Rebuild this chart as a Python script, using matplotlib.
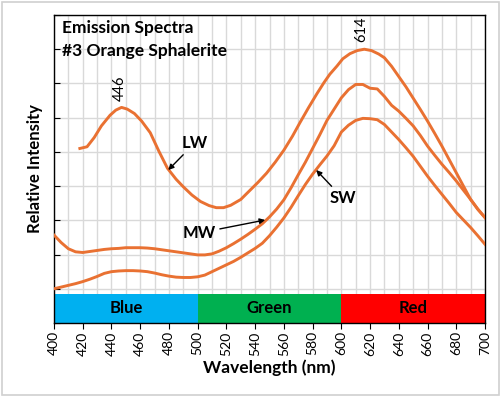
"""
Emission spectra of #3 Orange Sphalerite under LW, MW and SW UV light,
with the visible colour bands drawn as a strip under the curves.
"""

import matplotlib

matplotlib.use("Agg")
import matplotlib.pyplot as plt
from matplotlib.patches import Rectangle
from matplotlib.ticker import MultipleLocator

plt.rcParams["font.family"] = ["Lato", "DejaVu Sans"]

# Long-wave UV curve (starts at 418 nm)
LW_NM = [418, 423, 428, 433, 439, 443, 447, 451, 456, 461,
         467, 473, 479, 485, 490, 496, 502, 508, 513, 518,
         523, 530, 536, 542, 548, 554, 560, 566, 571, 577,
         583, 588, 592, 597, 601, 606, 611, 616, 621, 626,
         630, 635, 640, 645, 650, 655, 660, 665, 670, 675,
         680, 685, 690, 695, 700]
LW_VAL = [4.10, 4.15, 4.42, 4.76, 5.07, 5.22, 5.30, 5.25, 5.12, 4.90,
          4.56, 4.02, 3.52, 3.20, 2.98, 2.74, 2.55, 2.43, 2.37, 2.37,
          2.44, 2.61, 2.86, 3.11, 3.38, 3.70, 4.05, 4.46, 4.84, 5.28,
          5.70, 6.03, 6.27, 6.51, 6.72, 6.87, 6.96, 7.00, 6.96, 6.86,
          6.75, 6.50, 6.20, 5.90, 5.57, 5.24, 4.90, 4.54, 4.17, 3.78,
          3.39, 3.00, 2.61, 2.32, 2.08]

# Mid-wave and short-wave curves share one wavelength grid
NM = [400, 405, 410, 415, 420, 425, 430, 435, 440, 445,
      450, 455, 460, 465, 470, 475, 480, 485, 490, 495,
      500, 505, 510, 515, 520, 525, 530, 535, 540, 545,
      550, 555, 560, 565, 570, 575, 580, 585, 590, 595,
      600, 605, 610, 615, 620, 625, 630, 635, 640, 645,
      650, 655, 660, 665, 670, 675, 680, 685, 690, 695,
      700]
MW_VAL = [1.57, 1.35, 1.17, 1.08, 1.06, 1.09, 1.12, 1.15, 1.17, 1.18,
          1.20, 1.20, 1.20, 1.19, 1.17, 1.14, 1.11, 1.08, 1.05, 1.02,
          0.99, 0.99, 1.02, 1.10, 1.20, 1.32, 1.45, 1.59, 1.74, 1.90,
          2.10, 2.33, 2.60, 2.95, 3.33, 3.70, 4.10, 4.50, 4.92, 5.25,
          5.58, 5.82, 5.97, 5.97, 5.86, 5.84, 5.62, 5.36, 5.19, 4.98,
          4.76, 4.48, 4.17, 3.90, 3.64, 3.40, 3.15, 2.88, 2.61, 2.33,
          2.08]
SW_VAL = [0.00, 0.05, 0.10, 0.15, 0.21, 0.28, 0.36, 0.45, 0.50, 0.52,
          0.53, 0.53, 0.52, 0.50, 0.46, 0.41, 0.37, 0.34, 0.33, 0.33,
          0.35, 0.40, 0.50, 0.60, 0.70, 0.80, 0.92, 1.05, 1.18, 1.33,
          1.55, 1.80, 2.07, 2.38, 2.72, 3.05, 3.35, 3.62, 3.88, 4.18,
          4.58, 4.78, 4.92, 4.98, 4.97, 4.94, 4.80, 4.58, 4.36, 4.12,
          3.87, 3.58, 3.29, 3.02, 2.76, 2.50, 2.23, 2.01, 1.79, 1.55,
          1.30]

# Colour bands
BAND_NAMES = ["Blue", "Green", "Red"]
BAND_START = [400, 500, 600]
BAND_WIDTH = [100, 100, 100]
BAND_COLORS = ["#00B0F0", "#00B050", "#FF0000"]

# Peak labels
PEAK_NM = [446, 614]
PEAK_VAL = [5.30, 7.00]

CURVE_COLOR = "#E97132"


def main() -> None:
    fig = plt.figure(figsize=(5.01, 3.97), dpi=100)
    ax = fig.add_axes([54 / 501, 1 - 323 / 397, 431 / 501, 308 / 397])

    # light frame round the whole chart
    fig.patches.append(Rectangle((0.004, 0.005), 0.992, 0.99, transform=fig.transFigure,
                                 fill=False, edgecolor="#D0D0D0", linewidth=1.2))

    ax.set_xlim(400, 700)
    ax.set_ylim(-1, 8)
    ax.xaxis.set_major_locator(MultipleLocator(20))
    ax.xaxis.set_minor_locator(MultipleLocator(10))
    ax.yaxis.set_major_locator(MultipleLocator(1))
    ax.grid(True, which="both", color="#D9D9D9", linewidth=1.0)
    ax.set_axisbelow(True)
    ax.tick_params(axis="y", which="major", length=4, labelleft=False, direction="in")
    ax.tick_params(axis="x", which="major", length=4, labelsize=10, rotation=90, pad=2)
    ax.tick_params(axis="x", which="minor", length=0)
    for spine in ax.spines.values():
        spine.set_color("black")
        spine.set_linewidth(1.0)

    # colour band strip
    ax.barh(-0.575, BAND_WIDTH, left=BAND_START, height=0.85, color=BAND_COLORS,
            edgecolor="none", zorder=2)
    for name, start, width in zip(BAND_NAMES, BAND_START, BAND_WIDTH):
        ax.text(start + width / 2, -0.575, name, ha="center", va="center",
                fontsize=12, fontweight="bold", color="black", zorder=3)

    ax.plot(LW_NM, LW_VAL, color=CURVE_COLOR, linewidth=2.1, zorder=4)
    ax.plot(NM, MW_VAL, color=CURVE_COLOR, linewidth=2.1, zorder=4)
    ax.plot(NM, SW_VAL, color=CURVE_COLOR, linewidth=2.1, zorder=4)

    for nm, val in zip(PEAK_NM, PEAK_VAL):
        ax.text(nm, val + 0.2, str(nm), rotation=90, ha="center", va="bottom",
                fontsize=10.5, color="black")

    arrow = dict(arrowstyle="-|>", color="black", lw=1.0, mutation_scale=8, shrinkA=1, shrinkB=0)
    ax.annotate("LW", xy=(479.5, 3.47), xytext=(498, 4.26), ha="center", va="center",
                fontsize=12, fontweight="bold", arrowprops=arrow, zorder=5)
    ax.annotate("MW", xy=(547, 2.01), xytext=(501, 1.63), ha="center", va="center",
                fontsize=12, fontweight="bold", arrowprops=arrow, zorder=5)
    ax.annotate("SW", xy=(582.5, 3.47), xytext=(601, 2.65), ha="center", va="center",
                fontsize=12, fontweight="bold", arrowprops=arrow, zorder=5)

    ax.text(0.019, 0.958, "Emission Spectra", transform=ax.transAxes, ha="left",
            va="center", fontsize=12.5, fontweight="bold")
    ax.text(0.019, 0.883, "#3 Orange Sphalerite", transform=ax.transAxes, ha="left",
            va="center", fontsize=12.5, fontweight="bold")

    ax.set_xlabel("Wavelength (nm)", fontsize=12.5, fontweight="bold", labelpad=3)
    ax.set_ylabel("Relative Intensity", fontsize=12, fontweight="bold", labelpad=8)

    fig.savefig("out.png", dpi=100)
    plt.close(fig)


if __name__ == "__main__":
    main()
